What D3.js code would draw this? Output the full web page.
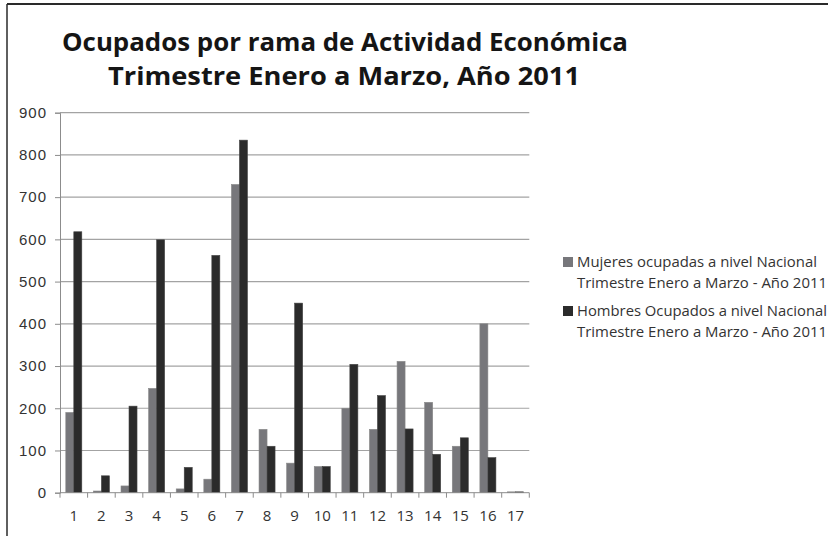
<!DOCTYPE html>
<html lang="es">
<head>
<meta charset="UTF-8">
<title>Ocupados por rama de Actividad Económica</title>
<script src="https://cdn.jsdelivr.net/npm/d3@7"></script>
<style>
  body { margin: 0; background: #fff; }
  svg { display: block; font-family: "Open Sans", "Noto Sans", sans-serif; }
</style>
</head>
<body>
<div id="chart"></div>
<script>
// ramas de actividad 1..17
const categories = ["1","2","3","4","5","6","7","8","9","10","11","12","13","14","15","16","17"];
const mujeres  = [190, 4, 16, 247, 9, 32, 730, 150, 70, 62, 200, 150, 311, 214, 110, 400, 2];
const hombres  = [618, 40, 205, 599, 60, 562, 835, 110, 449, 62, 304, 230, 151, 91, 130, 83, 2];
const yTicks   = [0, 100, 200, 300, 400, 500, 600, 700, 800, 900];
const seriesNames = ["Mujeres", "Hombres"];
const legendLines = [
  ["Mujeres ocupadas a nivel Nacional", "Trimestre Enero a Marzo - Año 2011"],
  ["Hombres Ocupados a nivel Nacional", "Trimestre Enero a Marzo - Año 2011"]
];
const titleLines = ["Ocupados por rama de Actividad Económica", "Trimestre Enero a Marzo, Año 2011"];

const W = 828, H = 536;
const colors = { Mujeres: "#77777b", Hombres: "#2b2b2b" };

const svg = d3.select("#chart").append("svg")
  .attr("width", W).attr("height", H);

// marco (solo arriba e izquierda visibles)
svg.append("line").attr("x1", 7).attr("x2", W).attr("y1", 4).attr("y2", 4)
  .attr("stroke", "#2a2a2a").attr("stroke-width", 2);
svg.append("line").attr("x1", 7).attr("x2", 7).attr("y1", 4).attr("y2", H)
  .attr("stroke", "#2a2a2a").attr("stroke-width", 1.5);

// titulo
const titleBox = [[62, 566, 51], [108, 472, 85]];
svg.selectAll(".title").data(titleLines).join("text")
  .attr("class", "title")
  .attr("x", (d, i) => titleBox[i][0])
  .attr("y", (d, i) => titleBox[i][2])
  .attr("textLength", (d, i) => titleBox[i][1])
  .attr("lengthAdjust", "spacingAndGlyphs")
  .attr("font-size", 25).attr("font-weight", "bold").attr("fill", "#151515")
  .text(d => d);

const pLeft = 60, pRight = 529.3, pTop = 112.7, pBottom = 492.7;

const x = d3.scaleBand().domain(categories).range([pLeft, pRight]).padding(0);
const y = d3.scaleLinear().domain([0, 900]).range([pBottom, pTop]);
const groupW = x.bandwidth() * 0.58;
const xs = d3.scaleBand().domain(seriesNames).range([0, groupW]).padding(0);

// rejilla
svg.append("g").selectAll("line").data(yTicks.filter(d => d > 0)).join("line")
  .attr("x1", pLeft).attr("x2", pRight)
  .attr("y1", d => y(d)).attr("y2", d => y(d))
  .attr("stroke", "#a3a3a3").attr("stroke-width", 1.2);

// eje Y
const yAxis = svg.append("g").attr("transform", `translate(${pLeft},0)`)
  .call(d3.axisLeft(y).tickValues(yTicks).tickSize(5).tickPadding(8));
yAxis.select(".domain").attr("stroke", "#8c8c8c");
yAxis.selectAll(".tick line").attr("stroke", "#8c8c8c");
yAxis.selectAll("text").attr("font-size", 15).attr("letter-spacing", 1).attr("fill", "#333");

// barras
const rows = categories.map((c, i) => ({ cat: c, Mujeres: mujeres[i], Hombres: hombres[i] }));
const groups = svg.append("g").selectAll("g").data(rows).join("g")
  .attr("transform", d => `translate(${x(d.cat) + (x.bandwidth() - groupW) / 2},0)`);
groups.selectAll("rect").data(d => seriesNames.map(s => ({ s, v: d[s] }))).join("rect")
  .attr("x", d => xs(d.s))
  .attr("width", xs.bandwidth())
  .attr("y", d => y(d.v))
  .attr("height", d => pBottom - y(d.v))
  .attr("fill", d => colors[d.s])
  .attr("stroke", d => d.s === "Hombres" ? "#444" : "#888")
  .attr("stroke-width", 0.6);

// eje X con marcas en los limites de categoria
const xAxisG = svg.append("g");
xAxisG.append("line").attr("x1", pLeft).attr("x2", pRight)
  .attr("y1", pBottom).attr("y2", pBottom).attr("stroke", "#8c8c8c");
const bounds = categories.map(c => x(c)).concat([pRight]);
xAxisG.selectAll(".xt").data(bounds).join("line")
  .attr("class", "xt")
  .attr("x1", d => d).attr("x2", d => d)
  .attr("y1", pBottom).attr("y2", pBottom + 5)
  .attr("stroke", "#8c8c8c");
xAxisG.selectAll("text").data(categories).join("text")
  .attr("x", d => x(d) + x.bandwidth() / 2)
  .attr("y", 521)
  .attr("text-anchor", "middle")
  .attr("font-size", 15).attr("fill", "#333")
  .text(d => d);

// leyenda
const legend = svg.append("g");
const legendY = [257, 306];
const legendW = [[240, 250], [250, 250]];
seriesNames.forEach((s, i) => {
  const g = legend.append("g").attr("transform", `translate(563,${legendY[i]})`);
  g.append("rect").attr("width", 10).attr("height", 10).attr("fill", colors[s]);
  g.selectAll("text").data(legendLines[i]).join("text")
    .attr("x", 14)
    .attr("y", (d, j) => 9.5 + j * 21)
    .attr("textLength", (d, j) => legendW[i][j])
    .attr("lengthAdjust", "spacingAndGlyphs")
    .attr("font-size", 14).attr("fill", "#333")
    .text(d => d);
});
</script>
</body>
</html>
